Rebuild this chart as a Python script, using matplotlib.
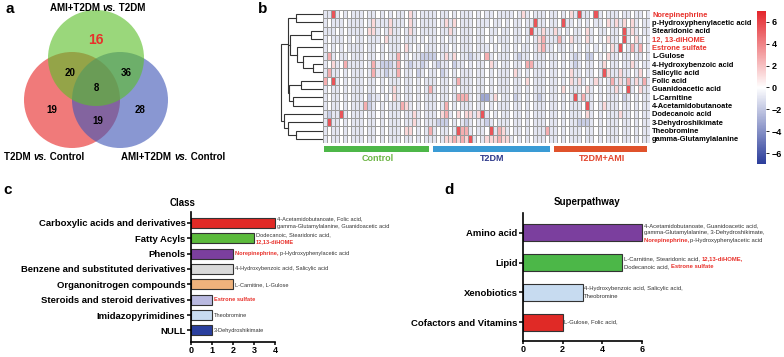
import matplotlib
matplotlib.use('Agg')
import matplotlib.pyplot as plt
import numpy as np
from matplotlib.patches import Circle
from matplotlib.colors import LinearSegmentedColormap

plt.rcParams['font.family'] = ['Liberation Sans', 'DejaVu Sans']

W, H = 784, 357
RED_TXT = '#e8312b'

# ---------------- data ----------------
# venn (a)
venn_titles = ['AMI+T2DM', 'T2DM', 'AMI+T2DM']
venn_only = [16, 19, 28]          # green, red, blue
venn_pairs = [20, 36, 19]         # green&red, green&blue, red&blue
venn_all = 8

# heatmap (b)
metabolites = ['Norepinephrine', 'p-Hydroxyphenylacetic acid', 'Stearidonic acid',
               '12, 13-diHOME', 'Estrone sulfate', 'L-Gulose', '4-Hydroxybenzoic acid',
               'Salicylic acid', 'Folic acid', 'Guanidoacetic acid', 'L-Carnitine',
               '4-Acetamidobutanoate', 'Dodecanoic acid', '3-Dehydroshikimate',
               'Theobromine', 'gamma-Glutamylalanine']
highlight = ['Norepinephrine', '12, 13-diHOME', 'Estrone sulfate']
groups = ['Control', 'T2DM', 'T2DM+AMI']
group_sizes = [27, 30, 24]

# cell levels, 81 samples per row
level_map = {'-': -0.9, '.': 0.0, 'b': -1.8, 'B': -3.2, 'r': 1.3, 'p': 2.6, 'R': 5.5}
heat_rows = [
    "--R-.-.-- -.--.-.-. --.r-.--- -.--.-.-- -.-.--.-- --.-r-.-- -.--.-.r- R--.R-.-- -.--.--.-",
    "-.---.--- -.-r---r- --.r-.--- -.-r-r.-- -.---.--. -.--.--R- -.--.R--. -.-.--.r- r-r.r-.--",
    "---.-.--- -.rr-.-r- -.-r-.--- -.--r-.-- -.--.--.- -.--.-R-- r--r-.-.- -.r-.--.- -.R-r-.--",
    "-.---.-.- -.---.r-- -.---.-.- -.-.--.-- -.--.-.-- -.--.-.-r p---p-.r- -.r-.-.r- -.R-.r-.-",
    "-.-.-.--- -.--.-.-- -.r-.-.-- -.--.-.-- -.---.-.- -.-.--.-r p--.--.-. -.-.-.-.r -R.-p-p.-",
    "-p-.--.-- -.--.-.-- p.-.--bbb b.-r-r.-- b--.p-.-- -.-b--.-- -.--.-.-b -.bb.-.r- -.--.--.-",
    "-.r-.p--- -.-p-bbb- p.-b--b-. -b--.b--. -.--.r-.- -.--.pp-- -.--.-.-b -.--.-r.- -.--r-.--",
    "-p--.-.-- -.-p--b-- p.--.b-.- -.b-.-.-- -.--.-.-- -.r-.-.-- -.--.-.r- -.--.-Rr- -r--.-r.-",
    "p.R-.-.-- -.--.-.-- -.--.-.-- -.--.-p-- -.--.-.-- -.--.r.-- -.--.-.r- r-.-r-.-p -r-p-r-p-",
    "-.--.-.-- -.--.-.-r -.--.-.-p -.--.-.-- -.--.-.-- -.--.-.-- -.--.r.-- -.r-.-.-- r-.R-.r--",
    "-.--.-.-- -.b--.-.r -.--.-.-- -.--.-ppp -.-BB-r.- -.b-.-.-b -.--.-.-R -p--.-.-- -.b-.-.--",
    "-.--.-.-- -pb-.-.-- -pr-.-.-- -.-p.-.-- -.--.-.-- -.--.-.-- -.--.-.-- -.R-.-r-- -.--.-.--",
    "-b--R-.-- -.--.-.-- -.--r-.-- -.rp-.r.r r-rR-.-.- -.--.-.-- -.--.-.-- -.r-.-.-- -r--.-.--",
    "-R--.-.-- -.--.-.-- -.--r-.-- -bbb.-.-b -.--b-.-- -.--.-.-- -.--.-.-- bbb-.-.-- -.--.-.--",
    "-.--.-.-- -.--.-.-- -.rr.-.-p -.--.-Rpp -.--.R-pr -.--.-.-- -p--.-.-- -.--.-.-- -.--.-.--",
    "-.--.-.-- -.--.-.-- -.--.-.-- -.-rrprpr R-.-rrrpr r-.-.-.-- -.--.-.-- -.--.-.-- -.--.-.--",
]

# row dendrogram: (left, right, distance); leaves 0-15, merges numbered from 16
dendro_merges = [
    (0, 1, 27), (2, 3, 12), (6, 7, 10), (5, 18, 20), (4, 19, 26),
    (17, 20, 33.5), (8, 9, 22), (10, 11, 30), (22, 23, 34), (21, 24, 34.6),
    (16, 25, 35), (14, 15, 27), (13, 27, 35), (12, 28, 38.7), (26, 29, 42),
]

# class (c)
class_names = ['Carboxylic acids and derivatives', 'Fatty Acyls', 'Phenols',
               'Benzene and substituted derivatives', 'Organonitrogen compounds',
               'Steroids and steroid derivatives', 'Imidazopyrimidines', 'NULL']
class_counts = [4, 3, 2, 2, 2, 1, 1, 1]
class_colors = ['#e02a26', '#5cbb3c', '#7b3f9e', '#d9d9d9', '#efb27c',
                '#b9b9e0', '#c7dbf0', '#2a3f9e']
class_notes = [
    [[('4-Acetamidobutanoate, Folic acid,', 0)], [('gamma-Glutamylalanine, Guanidoacetic acid', 0)]],
    [[('Dodecanoic, Stearidonic acid,', 0)], [('12,13-diHOME', 1)]],
    [[('Norepinephrine, ', 1), ('p-Hydroxyphenylacetic acid', 0)]],
    [[('4-Hydroxybenzoic acid, Salicylic acid', 0)]],
    [[('L-Carnitine, L-Gulose', 0)]],
    [[('Estrone sulfate', 1)]],
    [[('Theobromine', 0)]],
    [[('3-Dehydroshikimate', 0)]],
]

# superpathway (d)
path_names = ['Amino acid', 'Lipid', 'Xenobiotics', 'Cofactors and Vitamins']
path_counts = [6, 5, 3, 2]
path_colors = ['#7b3f9e', '#4cb748', '#c7dbf0', '#e02a26']
path_notes = [
    [[('4-Acetamidobutanoate, Guanidoacetic acid,', 0)],
     [('gamma-Glutamylalanine, 3-Dehydroshikimate,', 0)],
     [('Norepinephrine, ', 1), ('p-Hydroxyphenylacetic acid', 0)]],
    [[('L-Carnitine, Stearidonic acid, ', 0), ('12,13-diHOME,', 1)],
     [('Dodecanoic acid, ', 0), ('Estrone sulfate', 1)]],
    [[('4-Hydroxybenzoic acid, Salicylic acid,', 0)], [('Theobromine', 0)]],
    [[('L-Gulose, Folic acid,', 0)]],
]

# ---------------- helpers ----------------
fig = plt.figure(figsize=(W / 100, H / 100), dpi=100)
renderer = fig.canvas.get_renderer()


def add_ax(x0, y0, x1, y1):
    return fig.add_axes([x0 / W, 1 - y1 / H, (x1 - x0) / W, (y1 - y0) / H])


def ftext(x, y, s, **kw):
    fig.text(x / W, 1 - y / H, s, **kw)


def rich(ax, x, y, lines, size, ha='left', pad=0.0, gap=1.2, coords='data'):
    # lines: list of lines, each a list of (text, style dict)
    n = len(lines)
    for i, segs in enumerate(lines):
        dy = ((n - 1) / 2 - i) * size * gap
        arts = []
        for txt, kw in segs:
            t = ax.annotate(txt, (x, y), xycoords=coords, xytext=(0, dy),
                            textcoords='offset points', fontsize=size,
                            va='center', ha='left', annotation_clip=False, **kw)
            arts.append(t)
        widths = [t.get_window_extent(renderer).width * 72 / fig.dpi for t in arts]
        x0 = {'left': pad, 'center': -sum(widths) / 2, 'right': -sum(widths) - pad}[ha]
        for t, w in zip(arts, widths):
            t.xyann = (x0, dy)
            x0 += w


def note_lines(note):
    out = []
    for line in note:
        segs = []
        for txt, hl in line:
            if hl:
                segs.append((txt, dict(color=RED_TXT, fontweight='bold')))
            else:
                segs.append((txt, dict(color='#333333')))
        out.append(segs)
    return out


# ---------------- a: venn ----------------
ftext(10, 9, 'a', fontsize=11, fontweight='bold', va='center', ha='center')
axa = add_ax(0, 0, 250, 175)
axa.set_xlim(0, 250)
axa.set_ylim(175, 0)
axa.axis('off')
for (cx, cy), col in [((72, 100), '#e72828'), ((120, 100), '#4158b7'), ((96, 58), '#5cbf2a')]:
    axa.add_patch(Circle((cx, cy), 48, facecolor=col, alpha=0.62, edgecolor='none'))

num_kw = dict(ha='center', va='center', fontsize=7, fontweight='bold')
axa.text(96, 40, str(venn_only[0]), color=RED_TXT, ha='center', va='center',
         fontsize=10, fontweight='bold')
axa.text(52, 110, str(venn_only[1]), **num_kw)
axa.text(140, 110, str(venn_only[2]), **num_kw)
axa.text(70, 73, str(venn_pairs[0]), **num_kw)
axa.text(126, 73, str(venn_pairs[1]), **num_kw)
axa.text(98, 121, str(venn_pairs[2]), **num_kw)
axa.text(96, 88, str(venn_all), **num_kw)

bold = dict(fontweight='bold', color='black')
boldit = dict(fontweight='bold', fontstyle='italic', color='black')
rich(axa, 98, 8, [[(venn_titles[0] + ' ', bold), ('vs.', boldit), (' T2DM', bold)]], 7, ha='center')
rich(axa, 44, 157, [[(venn_titles[1] + ' ', bold), ('vs.', boldit), (' Control', bold)]], 7, ha='center')
rich(axa, 173, 157, [[(venn_titles[2] + ' ', bold), ('vs.', boldit), (' Control', bold)]], 7, ha='center')

# ---------------- b: heatmap ----------------
ftext(263, 9, 'b', fontsize=11, fontweight='bold', va='center', ha='center')
M = np.array([[level_map[c] for c in (r.replace(' ', '') + '-' * 81)[:81]] for r in heat_rows])
n_rows, n_cols = M.shape

cmap = LinearSegmentedColormap.from_list('bwr2', ['#2b3d9b', '#ffffff', '#e4262c'])
axh = add_ax(323, 10, 650, 143)
mesh = axh.pcolormesh(np.arange(n_cols + 1), np.arange(n_rows + 1) - 0.5, M, cmap=cmap,
                      vmin=-7, vmax=7, edgecolors='#9c9c9c', linewidth=0.4)
axh.set_xlim(0, n_cols)
axh.set_ylim(n_rows - 0.5, -0.5)
axh.set_xticks([])
axh.yaxis.tick_right()
axh.set_yticks(range(n_rows))
axh.set_yticklabels(metabolites, fontsize=5.4, fontweight='bold')
axh.tick_params(axis='y', length=0, pad=1.5)
for lab in axh.get_yticklabels():
    if lab.get_text() in highlight:
        lab.set_color(RED_TXT)
for s in axh.spines.values():
    s.set_visible(False)

# dendrogram
axd = add_ax(279, 10, 323, 143)
pos = {i: (0.0, float(i)) for i in range(n_rows)}
for k, (a, b, d) in enumerate(dendro_merges):
    (da, ya), (db, yb) = pos[a], pos[b]
    axd.plot([da, d, d, db], [ya, ya, yb, yb], color='#333333', lw=0.8,
             solid_joinstyle='miter')
    pos[n_rows + k] = (d, (ya + yb) / 2)
axd.set_xlim(44, 0)
axd.set_ylim(n_rows - 0.5, -0.5)
axd.axis('off')

# group bars
axg = add_ax(323, 146, 650, 152)
bar_cols = ['#4db748', '#3a9bd5', '#e0522b']
txt_cols = ['#6cb544', '#2e3a8c', '#e2452d']
start = 0
for g, n, bc, tc in zip(groups, group_sizes, bar_cols, txt_cols):
    axg.broken_barh([(start + 0.3, n - 1.0)], (0, 1), facecolors=bc)
    axg.text(start + n / 2, -1.1, g, color=tc, ha='center', va='center',
             fontsize=6.5, fontweight='bold')
    start += n
axg.set_xlim(0, n_cols)
axg.set_ylim(0, 1)
axg.axis('off')

# colorbar
cax = add_ax(757, 11, 766, 164)
cb = fig.colorbar(mesh, cax=cax, ticks=[6, 4, 2, 0, -2, -4, -6])
cb.outline.set_visible(False)
cb.ax.tick_params(length=2, width=0.6, labelsize=6.5, pad=2)
cb.ax.set_yticklabels([f'{v}'.replace('-', '\u2212') for v in [6, 4, 2, 0, -2, -4, -6]],
                      fontweight='bold')


# ---------------- c / d: bar panels ----------------
def bar_panel(rect, names, counts, colors, notes, xmax, xticks, ylim, height, name_size,
              note_size):
    ax = add_ax(*rect)
    y = np.arange(len(names))
    bars = ax.barh(y, counts, height=height, color=colors, edgecolor='#333333', linewidth=0.8)
    for b in bars:
        b.set_clip_on(False)
    ax.set_xlim(0, xmax)
    ax.set_ylim(*ylim)
    ax.set_xticks(xticks)
    ax.set_yticks(y)
    ax.set_yticklabels(names, fontsize=name_size, fontweight='bold')
    for lab in ax.get_xticklabels():
        lab.set_fontweight('bold')
    ax.tick_params(axis='x', labelsize=6.5, length=2.5, width=1.1, pad=0.5)
    ax.tick_params(axis='y', length=3, width=1.1, pad=1)
    for s in ['top', 'right']:
        ax.spines[s].set_visible(False)
    for s in ['left', 'bottom']:
        ax.spines[s].set_linewidth(1.2)
    for yi, c, note in zip(y, counts, notes):
        rich(ax, c, yi, note_lines(note), note_size, ha='left', pad=1.2, gap=1.25)
    return ax


ftext(8, 190, 'c', fontsize=11, fontweight='bold', va='center', ha='center')
ftext(183, 203, 'Class', fontsize=7, fontweight='bold', va='center', ha='center')
bar_panel((191, 212, 275, 342), class_names, class_counts, class_colors, class_notes,
          4, range(5), (7.75, -0.7), 0.65, 6.8, 4.1)

ftext(449, 190, 'd', fontsize=11, fontweight='bold', va='center', ha='center')
ftext(587, 202, 'Superpathway', fontsize=7, fontweight='bold', va='center', ha='center')
bar_panel((523, 213, 642, 341), path_names, path_counts, path_colors, path_notes,
          6, [0, 2, 4, 6], (3.63, -0.67), 0.57, 6.8, 4.2)

fig.savefig('out.png', dpi=100)
